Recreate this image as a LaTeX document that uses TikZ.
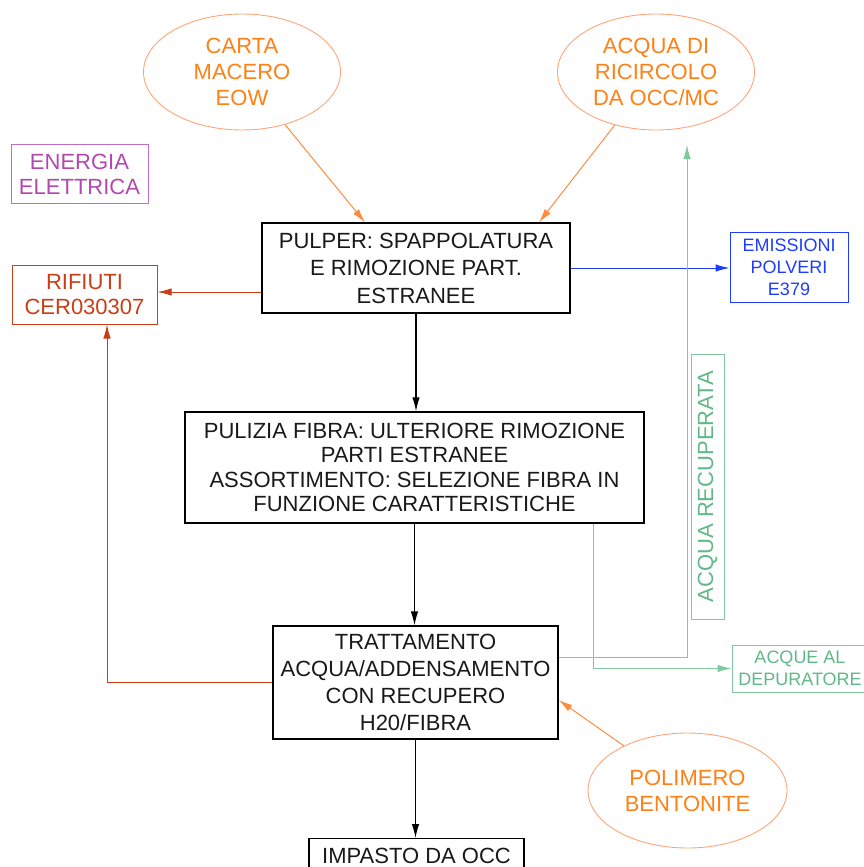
\documentclass[tikz,border=0pt]{standalone}
\usepackage{fontspec}
\setmainfont{Liberation Sans}
\usetikzlibrary{shapes.geometric,arrows.meta}

\definecolor{inkorange}{RGB}{255,128,20}
\definecolor{rimorange}{RGB}{255,165,120}
\definecolor{lineorange}{RGB}{255,140,60}
\definecolor{inkpurple}{RGB}{176,72,176}
\definecolor{rimpurple}{RGB}{192,110,196}
\definecolor{inkred}{RGB}{200,62,22}
\definecolor{inkblue}{RGB}{30,60,255}
\definecolor{inkgreen}{RGB}{96,184,136}
\definecolor{linegreen}{RGB}{128,200,160}

\tikzset{
  big/.style={font=\fontsize{22}{26.5}\selectfont},
  small/.style={font=\fontsize{18}{22}\selectfont},
  procbox/.style={draw=black, line width=1.2pt, rectangle, align=center,
    inner sep=0pt, big, text=black!90},
  inputoval/.style={draw=rimorange, line width=0.9pt, ellipse, align=center,
    inner sep=0pt, minimum width=197pt, minimum height=116pt, big,
    text=inkorange, font=\fontsize{22}{26}\selectfont},
  tip/.style={-{Latex[length=14pt,width=7.5pt]}},
  flowblack/.style={tip, draw=black, line width=1.2pt},
  floworange/.style={tip, draw=lineorange, line width=1pt},
  flowred/.style={tip, draw=inkred, line width=1pt},
  flowblue/.style={tip, draw=inkblue, line width=1pt},
  flowgreen/.style={tip, draw=linegreen, line width=1pt},
}

\begin{document}
\begin{tikzpicture}[x=1pt,y=-1pt]
\useasboundingbox (0,0) rectangle (864,867);

% input ovals
\node[inputoval] (carta) at (242,72) {CARTA\\MACERO\\EOW};
\node[inputoval] (ricircolo) at (656,72) {ACQUA DI\\RICIRCOLO\\DA OCC/MC};
\node[inputoval, minimum width=199pt, minimum height=115pt] (polimero) at (687.5,790.5)
  {POLIMERO\\BENTONITE};

% side boxes
\node[draw=rimpurple, line width=1pt, text=inkpurple, align=center, inner sep=0pt,
  minimum width=137pt, minimum height=59pt, font=\fontsize{22}{25}\selectfont]
  (energia) at (79.5,174) {ENERGIA\\ELETTRICA};
\node[draw=inkred, line width=1pt, text=inkred, align=center, inner sep=0pt,
  minimum width=145pt, minimum height=59pt, font=\fontsize{22}{25.5}\selectfont]
  (rifiuti) at (84.5,294.5) {RIFIUTI\\CER030307};
\node[draw=inkblue, line width=1pt, text=inkblue, align=center, inner sep=0pt,
  minimum width=118pt, minimum height=70pt, small]
  (emissioni) at (789,267) {EMISSIONI\\POLVERI\\E379};
\node[draw=linegreen, line width=1pt, text=inkgreen, align=center, inner sep=0pt,
  minimum width=136pt, minimum height=47pt, small]
  (acque) at (800,668.5) {ACQUE AL\\DEPURATORE};
\node[draw=linegreen, line width=1pt, text=inkgreen, inner sep=0pt, rotate=90,
  minimum width=265pt, minimum height=33pt, big]
  (recuperata) at (707.5,486.5) {ACQUA RECUPERATA};

% process chain
\node[procbox, minimum width=308pt, minimum height=90pt, font=\fontsize{22}{27.5}\selectfont]
  (pulper) at (416,268) {PULPER: SPAPPOLATURA\\E RIMOZIONE PART.\\ESTRANEE};
\node[procbox, minimum width=459pt, minimum height=111pt, font=\fontsize{22}{24.5}\selectfont]
  (pulizia) at (414.5,467.4) {PULIZIA FIBRA: ULTERIORE RIMOZIONE\\PARTI ESTRANEE\\
  ASSORTIMENTO: SELEZIONE FIBRA IN\\FUNZIONE CARATTERISTICHE};
\node[procbox, minimum width=285pt, minimum height=113pt, font=\fontsize{22}{27}\selectfont]
  (tratt) at (415.5,682.5) {TRATTAMENTO\\ACQUA/ADDENSAMENTO\\CON RECUPERO\\H20/FIBRA};
\node[procbox, anchor=north, minimum width=215pt, text height=16pt, text depth=30pt,
  inner ysep=9pt] (impasto) at (416.5,838) {IMPASTO DA OCC};

\coordinate (recupend) at (687,145);

% main flow
\draw[flowblack] (pulper.south) -- (pulper.south |- pulizia.north);
\draw[flowblack] (pulizia.south) -- (pulizia.south |- tratt.north);
\draw[flowblack] (tratt.south) -- (tratt.south |- impasto.north);

% raw inputs
\draw[floworange] (carta) -- ([xshift=-51pt]pulper.north);
\draw[floworange] (ricircolo) -- ([xshift=123pt]pulper.north);
\draw[floworange] (polimero) -- ([yshift=-17.5pt]tratt.east);

% waste
\draw[flowred] ([yshift=-24pt]pulper.west) -- ([yshift=-24pt]pulper.west -| rifiuti.east);
\draw[flowred] (tratt.west) -| ([xshift=22.5pt]rifiuti.south);

% dust emissions
\draw[flowblue] (pulper.east) -- (pulper.east -| emissioni.west);

% water streams
\draw[flowgreen] ([yshift=25.5pt]tratt.east) -| (recupend);
\draw[flowgreen] ([xshift=178.5pt]pulizia.south) |- (acque.west);
\end{tikzpicture}
\end{document}
